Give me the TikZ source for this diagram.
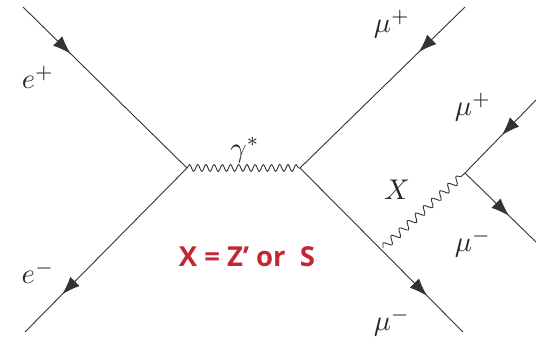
\documentclass[tikz,border=0pt]{standalone}
\usepackage{fontspec}
\newfontfamily\labfont{Open Sans}
\usetikzlibrary{decorations.pathmorphing,decorations.markings,arrows.meta}
\definecolor{labred}{RGB}{196,39,52}
\newcommand{\biglab}[1]{\scalebox{2.85}{$#1$}}
\tikzset{
  fermion/.style={draw=black!80,line width=0.9pt,postaction={decorate},
    decoration={markings,mark=at position #1 with {\arrow{Latex[length=18pt,width=13pt]}}}},
  photon/.style={draw=black!80,line width=0.9pt,decorate,
    decoration={snake,amplitude=3.4pt,segment length=8.2pt}},
  xboson/.style={draw=black!80,line width=0.9pt,decorate,
    decoration={snake,amplitude=3.8pt,segment length=11pt}},
  lab/.style={inner sep=0pt,text=black!85},
}
\begin{document}
\begin{tikzpicture}[x=1pt,y=1pt]
\useasboundingbox (0,0) rectangle (536,337);
% vertices and ends
\coordinate (ep) at (23,330);
\coordinate (em) at (25,5);
\coordinate (vl) at (187,169);
\coordinate (vr) at (300,169);
\coordinate (mp) at (465,330);
\coordinate (mm) at (463,5);
\coordinate (vx) at (383,89);
\coordinate (vm) at (465,164);
\coordinate (mp2) at (536,237);
\coordinate (mm2) at (536,95);
% fermion lines
\path[fermion=0.29] (ep) -- (vl);
\path[fermion=0.77] (vl) -- (em);
\path[fermion=0.28] (mp) -- (vr);
\path[fermion=0.78] (vr) -- (mm);
\path[fermion=0.48] (mp2) -- (vm);
\path[fermion=0.62] (vm) -- (mm2);
% bosons
\path[photon] (vl) -- (vr);
\path[xboson] (vx) -- (vm);
% labels
\node[lab] (lep) at (38,260) {\biglab{e^+}};
\node[lab] (lem) at (38,65) {\biglab{e^-}};
\node[lab] (lg) at (245,187) {\biglab{\gamma^*}};
\node[lab] (lmp) at (392,313) {\biglab{\mu^+}};
\node[lab] (lmp2) at (473,230) {\biglab{\mu^+}};
\node[lab] (lx) at (397,147) {\biglab{X}};
\node[lab] (lmm2) at (473,94) {\biglab{\mu^-}};
\node[lab] (lmm) at (392,15) {\biglab{\mu^-}};
\node[inner sep=0pt,text=labred,font=\labfont\bfseries\fontsize{27.5}{32}\selectfont] (lred) at (247,80) {X = Z’ or\ \ S};
\end{tikzpicture}
\end{document}
